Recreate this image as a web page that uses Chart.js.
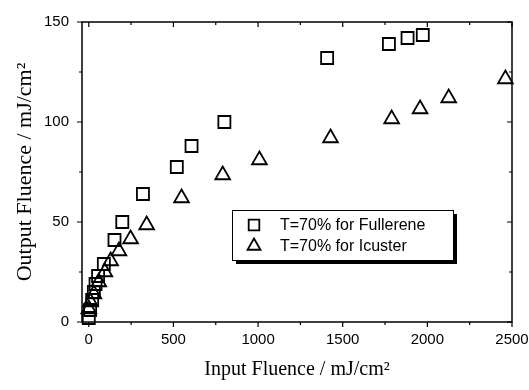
<!DOCTYPE html>
<html>
<head>
<meta charset="utf-8">
<script src="https://cdn.jsdelivr.net/npm/chart.js@4/dist/chart.umd.min.js"></script>
<style>
  body { margin: 0; background: #fff; }
  canvas { display: block; }
</style>
</head>
<body>
<canvas id="myChart" width="529" height="390"></canvas>
<script>
// values
var fullereneX = [0, 8, 20, 30, 40, 55, 89, 152, 198, 320, 520, 607, 801, 1408, 1773, 1883, 1973];
var fullereneY = [2, 6, 11, 15, 19, 23, 29, 41, 50, 64, 77.5, 88, 100, 132, 139, 142, 143.5];
var icusterX = [0, 10, 30, 59, 95, 129, 178, 247, 342, 548, 791, 1008, 1428, 1789, 1957, 2126, 2461];
var icusterY = [6.5, 10, 14, 20, 25, 30.5, 35.5, 41.5, 48.5, 62, 73.5, 81, 92, 101.5, 106.5, 112, 121.5];
var xTicks = [0, 500, 1000, 1500, 2000, 2500];
var xMinor = [250, 750, 1250, 1750, 2250];
var yTicks = [0, 50, 100, 150];
var yMinor = [25, 75, 125];
var labels = ['T=70% for Fullerene', 'T=70% for Icuster'];

function toPoints(xs, ys) {
    var pts = [];
    for (var i = 0; i < xs.length; i++) {
        pts.push({ x: xs[i], y: ys[i] });
    }
    return pts;
}

// box round the plot with tick marks on all four sides
var frameTicks = {
    id: 'frameTicks',
    afterDraw: function (chart) {
        var ctx = chart.ctx, a = chart.chartArea;
        var x = chart.scales.x, y = chart.scales.y;
        ctx.save();
        ctx.strokeStyle = '#000';
        ctx.lineWidth = 1.5;
        ctx.strokeRect(a.left, a.top, a.right - a.left, a.bottom - a.top);
        ctx.lineWidth = 1.2;
        ctx.beginPath();
        function xt(v, len) {
            var p = x.getPixelForValue(v);
            ctx.moveTo(p, a.bottom); ctx.lineTo(p, a.bottom + len);
            ctx.moveTo(p, a.top); ctx.lineTo(p, a.top + len);
        }
        function yt(v, len) {
            var p = y.getPixelForValue(v);
            ctx.moveTo(a.left, p); ctx.lineTo(a.left - len, p);
            ctx.moveTo(a.right, p); ctx.lineTo(a.right - len, p);
        }
        xTicks.forEach(function (v) { xt(v, 5); });
        xMinor.forEach(function (v) { xt(v, 3); });
        yTicks.forEach(function (v) { yt(v, 5); });
        yMinor.forEach(function (v) { yt(v, 3); });
        ctx.stroke();
        ctx.restore();
    }
};

// legend box with drop shadow inside the plot
var boxLegend = {
    id: 'boxLegend',
    afterDatasetsDraw: function (chart) {
        var ctx = chart.ctx;
        var bx = 232, by = 210, bw = 221, bh = 50;
        ctx.save();
        ctx.fillStyle = '#000';
        ctx.fillRect(bx + 4, by + 4, bw, bh);
        ctx.fillStyle = '#fff';
        ctx.fillRect(bx, by, bw, bh);
        ctx.strokeStyle = '#000';
        ctx.lineWidth = 1;
        ctx.strokeRect(bx + 0.5, by + 0.5, bw, bh);
        ctx.font = '16px "Liberation Sans", Arial, sans-serif';
        ctx.textBaseline = 'middle';
        chart.data.datasets.forEach(function (ds, i) {
            var cy = by + 15 + i * 21;
            ctx.fillStyle = '#fff';
            ctx.strokeStyle = '#000';
            ctx.lineWidth = ds.borderWidth;
            Chart.helpers.drawPoint(ctx, {
                pointStyle: ds.pointStyle,
                radius: 7.5,
                borderWidth: ds.borderWidth,
                rotation: 0
            }, bx + 22, cy);
            ctx.fillStyle = '#000';
            ctx.fillText(ds.label, bx + 48, cy + 1);
        });
        ctx.restore();
    }
};

function plainLabel(v) { return String(v); }

var ctx = document.getElementById('myChart');
var myChart = new Chart(ctx, {
    type: 'scatter',
    data: {
        datasets: [{
            label: labels[0],
            data: toPoints(fullereneX, fullereneY),
            pointStyle: 'rect',
            pointRadius: 8.5,
            borderWidth: 1.8,
            borderColor: '#000',
            backgroundColor: 'rgba(0,0,0,0)',
            clip: false
        }, {
            label: labels[1],
            data: toPoints(icusterX, icusterY),
            pointStyle: 'triangle',
            pointRadius: 8.5,
            borderWidth: 1.8,
            borderColor: '#000',
            backgroundColor: 'rgba(0,0,0,0)',
            clip: false
        }]
    },
    options: {
        responsive: false,
        animation: false,
        devicePixelRatio: 1,
        layout: { padding: { top: 20, right: 0, left: 0, bottom: 0 } },
        plugins: {
            legend: { display: false },
            tooltip: { enabled: false }
        },
        scales: {
            x: {
                type: 'linear',
                min: -40,
                max: 2500,
                afterBuildTicks: function (s) { s.ticks = xTicks.map(function (v) { return { value: v }; }); },
                afterFit: function (s) { s.height = 68; s.paddingRight = 17; },
                grid: { display: false, drawTicks: false },
                border: { display: false },
                ticks: { color: '#000', padding: 9, callback: plainLabel, font: { family: '"Liberation Sans", Arial', size: 15 } },
                title: {
                    display: true,
                    text: 'Input Fluence / mJ/cm²',
                    color: '#000',
                    padding: { top: 0, bottom: 8 },
                    font: { family: '"Liberation Serif", "Times New Roman", serif', size: 20 }
                }
            },
            y: {
                type: 'linear',
                min: 0,
                max: 150,
                afterBuildTicks: function (s) { s.ticks = yTicks.map(function (v) { return { value: v }; }); },
                afterFit: function (s) { s.width = 82; },
                grid: { display: false, drawTicks: false },
                border: { display: false },
                ticks: { color: '#000', padding: 13, callback: plainLabel, font: { family: '"Liberation Sans", Arial', size: 15 } },
                title: {
                    display: true,
                    text: 'Output Fluence / mJ/cm²',
                    color: '#000',
                    padding: { top: 12, bottom: 0 },
                    font: { family: '"Liberation Serif", "Times New Roman", serif', size: 22 }
                }
            }
        }
    },
    plugins: [frameTicks, boxLegend]
});
</script>
</body>
</html>
